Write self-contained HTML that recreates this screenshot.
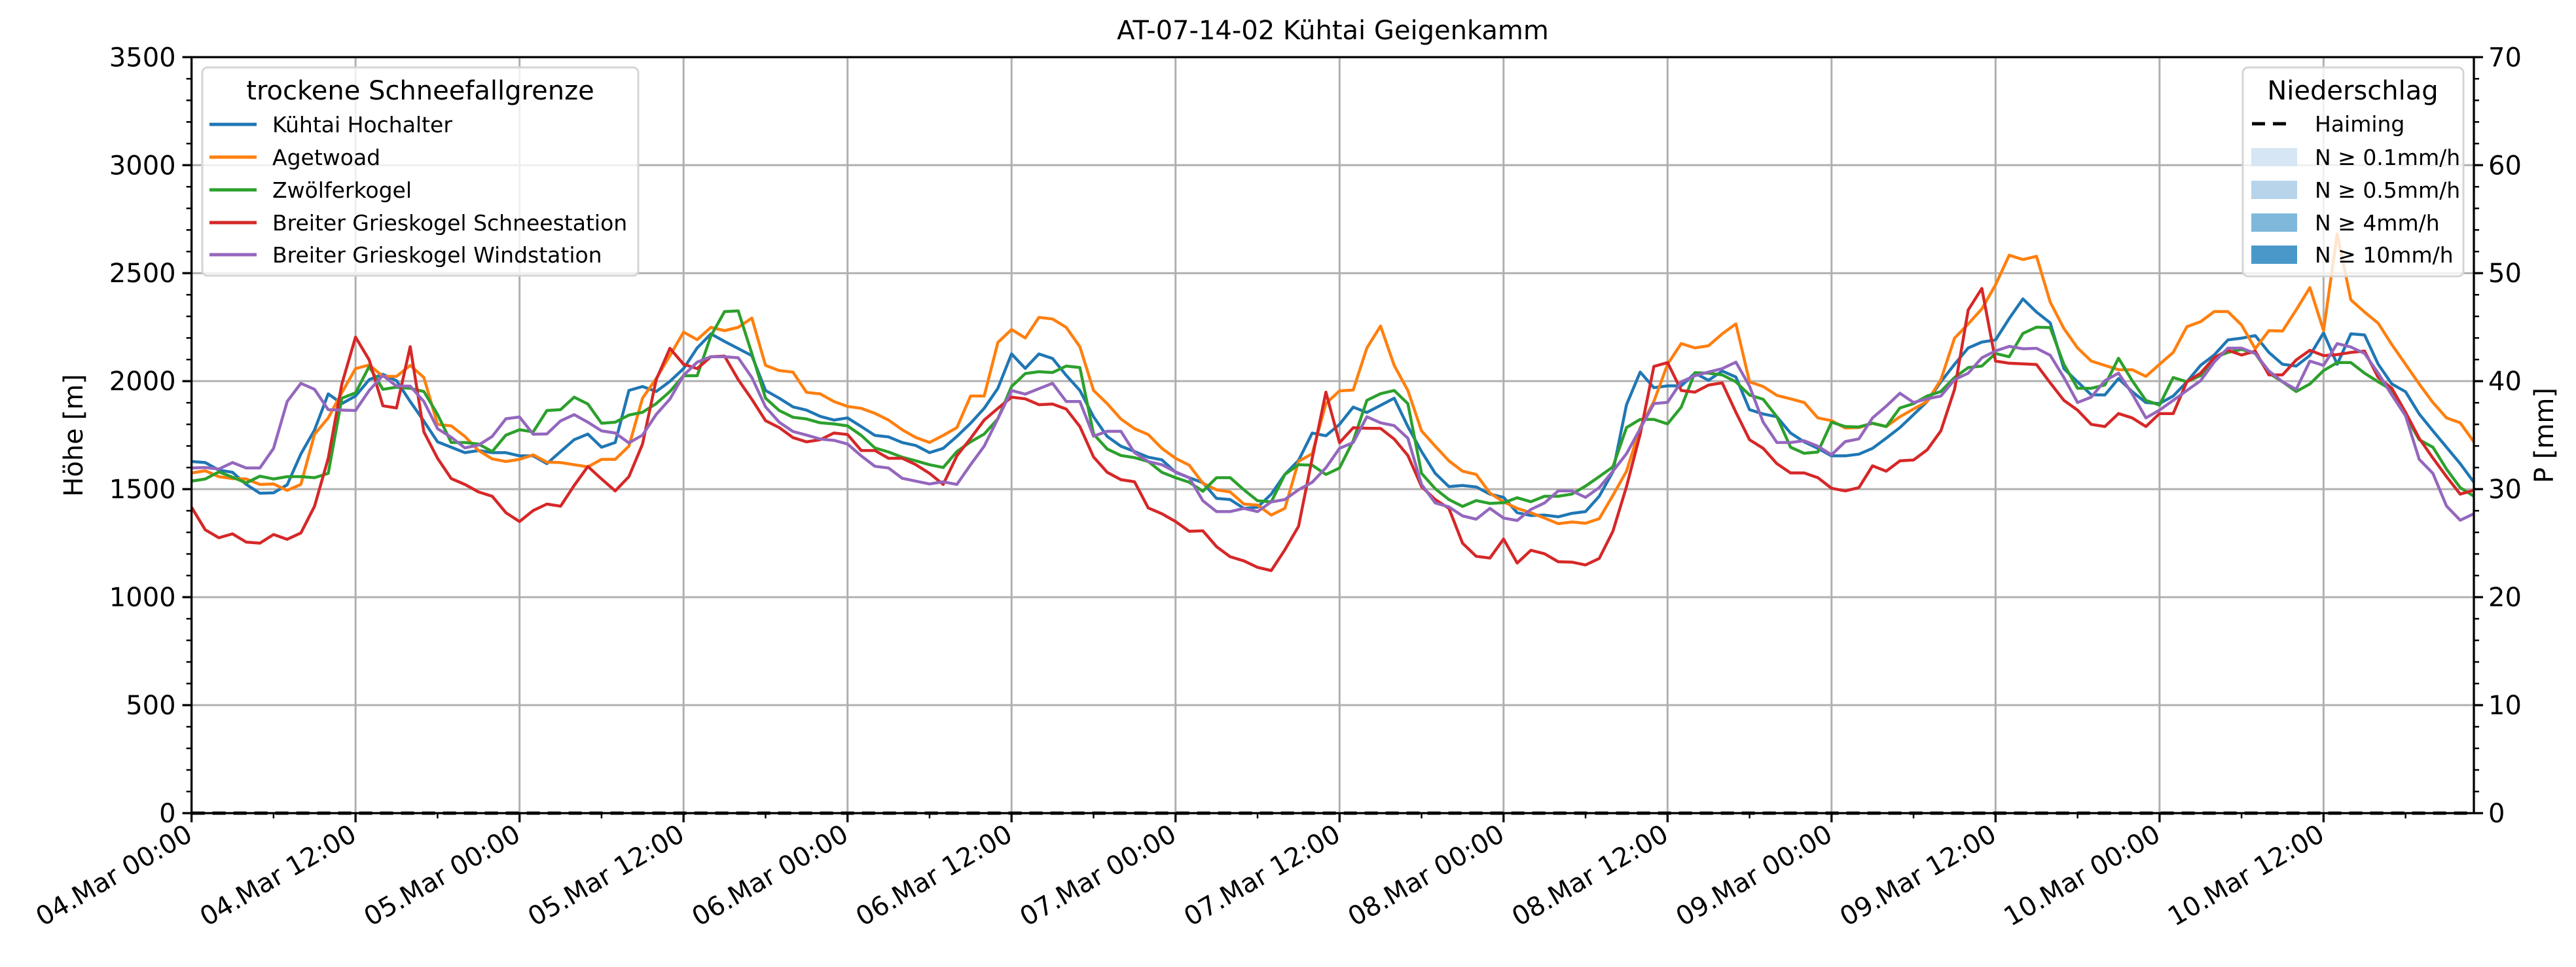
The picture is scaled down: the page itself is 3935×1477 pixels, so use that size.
<!DOCTYPE html>
<html><head><meta charset="utf-8">
<style>
html,body{margin:0;padding:0;background:#fff;}
svg{display:block;font-family:"DejaVu Sans","Liberation Sans",sans-serif;}
</style></head>
<body>
<svg id="chart" width="3935" height="1477" viewBox="0 0 3935 1477" xmlns="http://www.w3.org/2000/svg">
<rect width="3935" height="1477" fill="#fff"/>
<g id="grid"></g>
<g id="series"></g>
<g id="axes"></g>
<text x="2036" y="60" font-size="40" text-anchor="middle">AT-07-14-02 Kühtai Geigenkamm</text>
<text transform="translate(126,665) rotate(-90)" font-size="40" text-anchor="middle">Höhe [m]</text>
<text transform="translate(3900,665) rotate(-90)" font-size="40" text-anchor="middle">P [mm]</text>

<g>
<rect x="309" y="103" width="666" height="318" rx="8" fill="#fff" fill-opacity="0.8" stroke="#d5d5d5" stroke-width="3"/>
<text x="642" y="152" font-size="40" text-anchor="middle">trockene Schneefallgrenze</text>
<g><line x1="320" y1="190" x2="392" y2="190" stroke="#1f77b4" stroke-width="5"/><text x="416" y="202" font-size="33">Kühtai Hochalter</text></g>
<g><line x1="320" y1="240" x2="392" y2="240" stroke="#ff7f0e" stroke-width="5"/><text x="416" y="252" font-size="33">Agetwoad</text></g>
<g><line x1="320" y1="290" x2="392" y2="290" stroke="#2ca02c" stroke-width="5"/><text x="416" y="302" font-size="33">Zwölferkogel</text></g>
<g><line x1="320" y1="340" x2="392" y2="340" stroke="#d62728" stroke-width="5"/><text x="416" y="352" font-size="33">Breiter Grieskogel Schneestation</text></g>
<g><line x1="320" y1="389" x2="392" y2="389" stroke="#9467bd" stroke-width="5"/><text x="416" y="401" font-size="33">Breiter Grieskogel Windstation</text></g>
</g>

<g>
<rect x="3426" y="103" width="337" height="319" rx="8" fill="#fff" fill-opacity="0.8" stroke="#d5d5d5" stroke-width="3"/>
<text x="3594" y="152" font-size="40" text-anchor="middle">Niederschlag</text>
<g><line x1="3440" y1="189" x2="3497" y2="189" stroke="#000" stroke-width="5" stroke-dasharray="20,12"/><text x="3536" y="201" font-size="33">Haiming</text></g>
<g><rect x="3439" y="226" width="70" height="28" fill="#d6e6f4"/><text x="3536" y="252" font-size="33">N ≥ 0.1mm/h</text></g>
<g><rect x="3439" y="276" width="70" height="28" fill="#b7d4ea"/><text x="3536" y="302" font-size="33">N ≥ 0.5mm/h</text></g>
<g><rect x="3439" y="326" width="70" height="28" fill="#7fb8da"/><text x="3536" y="352" font-size="33">N ≥ 4mm/h</text></g>
<g><rect x="3439" y="375" width="70" height="28" fill="#4a98c9"/><text x="3536" y="401" font-size="33">N ≥ 10mm/h</text></g>
</g>
</svg>
<script>
const seriesNames = ["Kühtai Hochalter","Agetwoad","Zwölferkogel","Breiter Grieskogel Schneestation","Breiter Grieskogel Windstation"];
const seriesColors = ["#1f77b4","#ff7f0e","#2ca02c","#d62728","#9467bd"];
const hochalter = [1628,1623,1588,1578,1522,1481,1483,1520,1663,1774,1941,1896,1931,2007,2032,2002,1906,1815,1719,1694,1669,1679,1669,1669,1654,1654,1618,1674,
1729,1755,1694,1716,1957,1975,1952,1999,2058,2154,2219,2184,2151,2118,1957,1921,1881,1866,1837,1820,1830,1790,1749,1742,1716,1702,1669,1689,
1744,1805,1874,1967,2126,2059,2126,2105,2027,1957,1835,1744,1699,1674,1648,1636,1578,1553,1530,1457,1452,1411,1416,1477,1568,1633,1760,1747,
1800,1880,1855,1888,1921,1790,1674,1573,1512,1517,1510,1477,1462,1391,1378,1380,1372,1388,1396,1467,1580,1891,2042,1970,1978,1978,2037,2004,
2047,2019,1868,1848,1835,1760,1719,1689,1654,1654,1662,1689,1736,1785,1845,1906,1997,2078,2154,2181,2191,2290,2381,2320,2270,2058,1997,1937,
1936,2012,1951,1901,1896,1931,1997,2073,2121,2191,2199,2211,2133,2078,2070,2119,2224,2078,2219,2214,2078,1987,1951,1848,1770,1694,1618,1532];
const agetwoad = [1575,1585,1558,1549,1547,1522,1524,1494,1522,1754,1830,1947,2058,2075,2022,2022,2073,2017,1800,1793,1744,1679,1640,1628,1638,1659,1625,1623,
1613,1603,1638,1638,1699,1921,2012,2118,2227,2192,2249,2234,2249,2292,2073,2049,2042,1948,1941,1906,1883,1874,1851,1820,1775,1739,1716,1749,
1785,1931,1931,2179,2239,2200,2295,2288,2249,2159,1957,1896,1825,1780,1753,1689,1643,1611,1527,1497,1487,1431,1426,1380,1411,1629,1664,1896,
1955,1959,2154,2255,2073,1957,1770,1699,1631,1583,1568,1482,1441,1411,1391,1366,1340,1348,1342,1363,1471,1583,1785,1906,2078,2174,2154,2164,
2219,2265,1997,1975,1934,1918,1901,1830,1817,1783,1785,1805,1790,1835,1871,1906,2007,2199,2265,2335,2446,2583,2563,2578,2366,2244,2154,2093,
2073,2053,2053,2022,2078,2133,2252,2275,2322,2322,2260,2150,2234,2232,2330,2433,2234,2682,2376,2320,2268,2169,2078,1987,1901,1830,1807,1719];
const zwoelferkogel = [1537,1547,1580,1555,1529,1560,1547,1558,1558,1553,1573,1921,1946,2068,1962,1972,1967,1952,1846,1716,1716,1709,1674,1750,1775,1765,1864,1868,
1926,1894,1805,1810,1843,1856,1896,1952,2025,2025,2209,2322,2325,2128,1921,1864,1833,1825,1807,1802,1793,1749,1691,1672,1648,1631,1613,1600,
1674,1719,1755,1826,1975,2035,2044,2040,2070,2063,1755,1686,1656,1646,1628,1578,1553,1532,1490,1553,1553,1497,1446,1441,1568,1613,1611,1568,
1598,1724,1911,1942,1957,1896,1573,1502,1452,1420,1447,1434,1437,1460,1442,1467,1467,1477,1514,1558,1603,1785,1823,1823,1802,1880,2039,2037,
2029,1997,1936,1916,1835,1694,1666,1672,1810,1790,1788,1805,1790,1876,1896,1931,1952,2017,2063,2070,2128,2113,2221,2250,2248,2078,1967,1967,
1982,2106,2002,1911,1889,2017,1997,2026,2108,2133,2147,2128,2037,1997,1952,1987,2049,2086,2086,2037,1997,1959,1840,1729,1694,1593,1507,1467];
const schneestation = [1416,1312,1275,1293,1255,1250,1290,1268,1297,1421,1643,1987,2204,2098,1886,1876,2160,1765,1643,1549,1522,1487,1467,1391,1350,1401,1431,1421,
1517,1605,1547,1492,1558,1709,2007,2152,2078,2058,2113,2116,2007,1916,1817,1785,1739,1719,1729,1760,1753,1679,1679,1643,1643,1613,1573,1522,
1654,1735,1820,1874,1926,1918,1891,1894,1871,1790,1649,1578,1544,1534,1413,1386,1350,1305,1307,1234,1187,1168,1138,1123,1219,1328,1643,1949,
1715,1784,1782,1781,1732,1656,1512,1452,1411,1250,1189,1181,1269,1158,1217,1201,1164,1162,1149,1179,1305,1512,1755,2068,2086,1957,1949,1982,
1992,1856,1729,1689,1618,1575,1575,1553,1504,1492,1507,1608,1583,1631,1635,1682,1770,1962,2330,2429,2093,2083,2080,2077,1992,1911,1866,1800,
1790,1850,1830,1790,1850,1850,1997,2037,2108,2143,2121,2139,2029,2029,2098,2143,2118,2123,2133,2139,2017,1967,1856,1735,1644,1558,1477,1495];
const windstation = [1598,1600,1593,1623,1598,1598,1689,1906,1990,1962,1868,1866,1864,1957,2027,1977,1977,1906,1780,1740,1691,1704,1744,1826,1834,1754,1756,1816,
1845,1810,1770,1760,1714,1750,1846,1917,2027,2088,2113,2113,2108,2017,1881,1810,1767,1750,1732,1726,1709,1654,1606,1598,1550,1537,1524,1534,
1522,1613,1699,1826,1957,1940,1965,1990,1906,1906,1745,1768,1768,1669,1628,1613,1580,1553,1446,1396,1396,1411,1396,1441,1452,1497,1532,1599,
1689,1716,1835,1807,1794,1736,1522,1436,1418,1376,1361,1411,1366,1355,1406,1436,1492,1492,1462,1507,1583,1664,1780,1896,1902,1997,2025,2042,
2058,2088,1977,1810,1716,1716,1724,1699,1659,1720,1733,1830,1884,1944,1901,1918,1931,2007,2037,2108,2140,2161,2150,2152,2120,2017,1901,1926,
2002,2037,1941,1830,1866,1911,1957,2002,2088,2153,2153,2128,2047,1997,1962,2093,2073,2174,2158,2128,2037,1936,1840,1638,1573,1422,1356,1386];
const haimingPrecip = new Array(168).fill(0);
const xTickLabels = ["04.Mar 00:00","04.Mar 12:00","05.Mar 00:00","05.Mar 12:00","06.Mar 00:00","06.Mar 12:00","07.Mar 00:00","07.Mar 12:00","08.Mar 00:00","08.Mar 12:00","09.Mar 00:00","09.Mar 12:00","10.Mar 00:00","10.Mar 12:00"];
const yTicks = [0,500,1000,1500,2000,2500,3000,3500];
const y2Ticks = [0,10,20,30,40,50,60,70];

const NS = "http://www.w3.org/2000/svg";
const L = 292.6, R = 3779, T = 87.3, B = 1242;
const HMAX = 167, YMAX = 3500, PMAX = 70;
const xs = h => L + (R - L) * h / HMAX;
const ys = v => B - (B - T) * v / YMAX;
const ps = p => B - (B - T) * p / PMAX;
function mk(tag, attrs, parent) { const e = document.createElementNS(NS, tag); for (const k in attrs) e.setAttribute(k, attrs[k]); parent.appendChild(e); return e; }

const grid = document.getElementById('grid');
const axes = document.getElementById('axes');
const sg = document.getElementById('series');

// grid
xTickLabels.forEach((lab, i) => {
  const x = xs(i * 12);
  const g = mk('line', {x1:x, x2:x, y1:T, y2:B, stroke:'#b0b0b0', 'stroke-width':3}, grid);
  
  
});
yTicks.forEach(v => {
  const y = ys(v);
  const g = mk('line', {x1:L, x2:R, y1:y, y2:y, stroke:'#b0b0b0', 'stroke-width':3}, grid);
  
  
});

// series
const allSeries = [hochalter, agetwoad, zwoelferkogel, schneestation, windstation];
const serNames = ["line-kuehtai-hochalter","line-agetwoad","line-zwoelferkogel","line-schneestation","line-windstation"];
allSeries.forEach((arr, si) => {
  const d = arr.map((v, h) => (h ? 'L' : 'M') + xs(h).toFixed(1) + ' ' + ys(v).toFixed(1)).join(' ');
  const p = mk('path', {d:d, fill:'none', stroke:seriesColors[si], 'stroke-width':4.5, 'stroke-linejoin':'round'}, sg);
  
  
});
// Haiming precipitation line
{
  const d = haimingPrecip.map((v, h) => (h ? 'L' : 'M') + xs(h).toFixed(1) + ' ' + ps(v).toFixed(1)).join(' ');
  const p = mk('path', {d:d, fill:'none', stroke:'#000', 'stroke-width':5, 'stroke-dasharray':'20,12'}, sg);
  
  
}

// spines
const fr = mk('rect', {x:L, y:T, width:R-L, height:B-T, fill:'none', stroke:'#000', 'stroke-width':3.3}, axes);



// y ticks left
for (let v = 0; v <= YMAX; v += 100) {
  const major = v % 500 === 0;
  const y = ys(v);
  mk('line', {x1:L, x2:L - (major ? 14 : 8), y1:y, y2:y, stroke:'#000', 'stroke-width':major ? 3.3 : 2.5}, axes);
}
yTicks.forEach(v => {
  const t = mk('text', {x:L - 24, y:ys(v) + 14, 'font-size':40, 'text-anchor':'end'}, axes);
  t.textContent = v;
  
  
});
// y2 ticks right
for (let p = 0; p <= PMAX; p += 2) {
  const major = p % 10 === 0;
  const y = ps(p);
  mk('line', {x1:R, x2:R + (major ? 14 : 8), y1:y, y2:y, stroke:'#000', 'stroke-width':major ? 3.3 : 2.5}, axes);
}
y2Ticks.forEach(p => {
  const t = mk('text', {x:R + 22, y:ps(p) + 14, 'font-size':40, 'text-anchor':'start'}, axes);
  t.textContent = p;
  
  
});
// x ticks
for (let h = 0; h <= HMAX; h += 6) {
  const major = h % 12 === 0;
  const x = xs(h);
  mk('line', {x1:x, x2:x, y1:B, y2:B + (major ? 14 : 8), stroke:'#000', 'stroke-width':major ? 3.3 : 2.5}, axes);
}
xTickLabels.forEach((lab, i) => {
  const x = xs(i * 12);
  const t = mk('text', {transform:`translate(${x + 4},${B + 40}) rotate(-30)`, 'font-size':40, 'text-anchor':'end'}, axes);
  t.textContent = lab;
  
  
});
</script>
</body></html>
